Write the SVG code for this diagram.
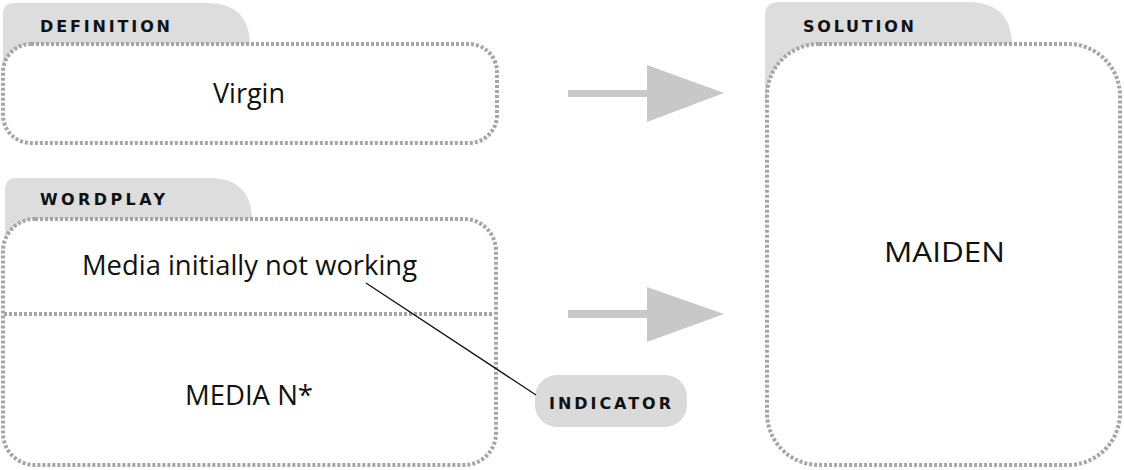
<svg xmlns="http://www.w3.org/2000/svg" width="1124" height="470" viewBox="0 0 1124 470">
<style>
.tab{fill:#dddddd}
.box{fill:#ffffff;stroke:#a6a6a6;stroke-width:4;stroke-dasharray:3 2}
.div{fill:none;stroke:#a6a6a6;stroke-width:4;stroke-dasharray:3 2}
.lbl{font-family:"DejaVu Sans",sans-serif;font-weight:bold;font-size:16px;fill:#111}
.txt{font-family:"Open Sans","Liberation Sans",sans-serif;font-size:28px;fill:#111}
.arrow{fill:#c8c8c8}
</style>
<rect width="1124" height="470" fill="#ffffff"/>
<g id="definition">
<path class="tab" d="M3,80 V14 Q3,3 14,3 H207 Q250,3 250,46 V80 Z"/>
<rect class="box" x="3" y="44" width="494" height="99" rx="28"/>
<text class="lbl" x="40" y="32" textLength="130" lengthAdjust="spacing">DEFINITION</text>
<text class="txt" x="249" y="103" text-anchor="middle" font-size="30" textLength="72" lengthAdjust="spacingAndGlyphs">Virgin</text>
</g>
<g id="wordplay">
<path class="tab" d="M5,260 V190 Q5,178 17,178 H209 Q252,178 252,221 V260 Z"/>
<rect class="box" x="3" y="219" width="493" height="246" rx="32"/>
<line class="div" x1="4" y1="314" x2="494" y2="314"/>
<text class="lbl" x="40" y="205" textLength="125" lengthAdjust="spacing">WORDPLAY</text>
<text class="txt" x="82" y="275" textLength="335" lengthAdjust="spacingAndGlyphs">Media initially not working</text>
<text class="txt" x="185" y="405" textLength="128" lengthAdjust="spacingAndGlyphs">MEDIA N*</text>
</g>
<g id="solution">
<path class="tab" d="M765,100 V16 Q765,2 779,2 H967 Q1012,2 1012,46 V100 Z"/>
<rect class="box" x="767" y="44" width="353" height="421" rx="52"/>
<text class="lbl" x="803" y="32" textLength="111" lengthAdjust="spacing">SOLUTION</text>
<text class="txt" x="884" y="262" font-size="33" textLength="121" lengthAdjust="spacingAndGlyphs">MAIDEN</text>
</g>
<g id="indicator">
<rect x="535" y="375" width="152" height="52" rx="22" fill="#dadada"/>
<text class="lbl" x="549" y="409" textLength="122" lengthAdjust="spacing">INDICATOR</text>
</g>
<g id="connectors">
<path class="arrow" d="M568,90 H647 V65 L724,93 L647,122 V97 H568 Z"/>
<path class="arrow" d="M568,310 H647 V287 L724,314 L647,342 V318 H568 Z"/>
<line x1="366" y1="283" x2="536" y2="395" stroke="#111" stroke-width="1.3"/>
</g>
</svg>
